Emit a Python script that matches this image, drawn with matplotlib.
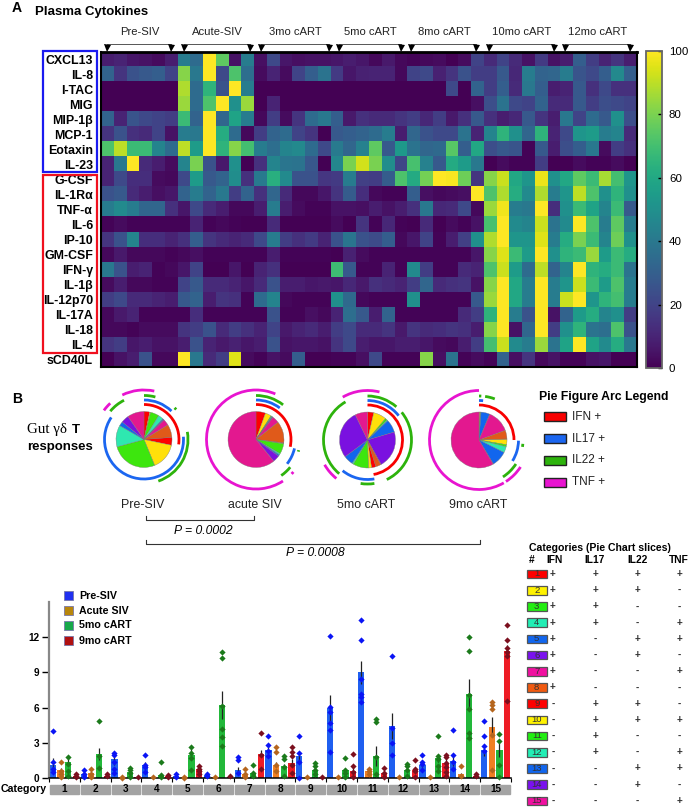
import numpy as np
import matplotlib
matplotlib.use("Agg")
import matplotlib.pyplot as plt
from matplotlib.patches import Arc, Rectangle

plt.rcParams['font.family'] = ['Liberation Sans', 'DejaVu Sans']

W, H = 689, 807

# ---- panel A data
cytokines = ["CXCL13", "IL-8", "I-TAC", "MIG", "MIP-1β", "MCP-1", "Eotaxin", "IL-23",
             "G-CSF", "IL-1Rα", "TNF-α", "IL-6", "IP-10", "GM-CSF", "IFN-γ", "IL-1β",
             "IL-12p70", "IL-17A", "IL-18", "IL-4", "sCD40L"]
timepoints = ["Pre-SIV", "Acute-SIV", "3mo cART", "5mo cART", "8mo cART", "10mo cART", "12mo cART"]
cxcl13 = [8,10,6,5,3,8,42,35,100,75,5,42,4,22,6,4,5,5,6,8,6,2,7,2,1,2,3,0,3,20,12,20,12,5,17,5,8,30,18,10,15,8]
il8 = [32,15,25,28,30,20,82,40,100,22,72,36,3,10,3,20,30,38,17,6,9,10,10,2,20,22,9,15,25,18,18,28,11,42,32,33,42,26,22,30,47,30]
itac = [0,0,0,0,0,0,88,35,65,25,100,42,0,0,0,0,0,0,0,0,0,0,0,0,0,0,0,22,0,32,18,30,12,40,30,8,10,28,14,22,14,14]
mig = [0,0,0,0,0,0,85,35,72,100,50,85,0,10,0,0,0,0,0,0,0,0,0,0,0,0,0,0,0,4,24,38,22,20,32,12,12,28,18,24,22,20]
mip1b = [32,10,26,22,20,18,68,32,100,33,58,42,2,18,3,15,35,40,30,7,14,12,12,15,18,11,18,7,14,28,14,8,11,28,15,8,40,20,35,28,50,24]
mcp1 = [15,25,14,12,20,5,42,40,100,62,35,2,18,32,35,20,15,0,28,30,32,35,42,8,33,25,22,22,38,10,45,65,50,33,65,10,22,52,55,42,45,12]
eotaxin = [72,90,68,68,45,35,90,55,100,65,82,70,42,36,45,47,35,22,41,33,44,75,28,54,38,33,34,74,30,60,24,28,26,1,28,8,24,30,40,3,18,14]
il23 = [10,40,100,12,8,3,45,80,25,7,50,0,14,45,39,38,27,0,46,80,93,80,49,21,71,44,28,61,55,40,0,3,1,1,18,0,0,3,1,1,3,0]
gcsf = [10,22,13,13,3,2,22,55,28,32,49,14,41,63,48,25,25,16,17,42,19,18,29,72,61,79,100,99,78,15,82,92,60,52,97,50,60,75,68,87,70,52]
il1ra = [25,28,12,8,4,6,32,42,32,40,18,32,14,33,12,2,2,6,15,29,13,2,1,1,30,4,2,3,4,100,72,88,62,48,88,42,52,90,72,50,65,50]
tnfa = [42,48,42,33,33,14,6,22,12,8,2,2,8,42,8,3,1,1,5,5,4,8,5,8,14,40,11,12,22,2,85,98,42,40,100,13,50,68,58,45,68,28]
il6 = [1,3,1,1,1,1,1,10,1,2,1,0,0,12,0,0,0,0,3,0,15,1,11,1,0,12,0,3,1,5,71,100,48,45,92,38,48,100,72,42,75,42]
ip10 = [15,25,45,13,13,10,14,30,15,12,10,12,22,42,18,14,17,10,25,39,25,23,30,2,6,20,1,8,19,50,88,100,52,52,95,42,62,80,68,45,78,50]
gmcsf = [2,7,2,2,2,1,2,4,1,1,1,1,1,8,1,1,1,1,0,9,3,1,1,1,1,1,1,1,1,6,82,95,68,55,100,50,65,68,85,55,68,62]
ifng = [40,25,8,10,1,2,6,20,0,0,6,0,10,14,0,0,0,0,69,28,1,1,10,1,48,18,1,1,12,10,72,92,55,35,90,32,45,100,65,62,68,38]
il1b = [3,8,2,2,1,1,20,28,12,12,10,6,12,25,8,8,6,7,6,11,7,14,12,10,18,33,12,14,15,5,82,100,60,42,100,42,52,92,68,55,72,42]
il12p70 = [18,22,12,12,10,8,28,32,8,15,14,1,35,45,2,1,1,1,50,34,2,1,1,1,50,1,1,1,1,28,85,100,60,42,100,42,92,100,52,65,70,42]
il17a = [2,7,10,1,1,1,1,13,1,1,1,1,1,25,1,1,4,2,10,36,28,8,32,1,1,1,1,1,12,18,65,100,42,25,100,5,32,55,62,45,50,18]
il18 = [2,2,1,3,3,3,15,18,25,12,18,14,10,20,7,10,12,8,18,22,12,12,15,7,15,12,13,15,14,8,82,100,5,33,100,18,50,65,38,36,72,25]
il4 = [15,18,6,8,5,5,8,25,10,7,9,6,8,25,5,6,6,5,15,22,8,6,6,8,8,6,3,2,8,18,70,92,48,42,85,38,58,100,58,48,62,40]
scd40l = [0,5,8,25,2,2,100,40,12,18,95,3,1,5,3,30,0,0,1,1,4,22,1,1,1,82,4,38,1,3,1,32,4,15,2,5,1,1,5,6,0,0]
heat_rows = [cxcl13, il8, itac, mig, mip1b, mcp1, eotaxin, il23, gcsf, il1ra, tnfa, il6, ip10,
             gmcsf, ifng, il1b, il12p70, il17a, il18, il4, scd40l]

# ---- panel B pies: slice fractions for categories 1..15
slice_colors = ["#fe0000", "#ffe00a", "#3de60e", "#2ee8b0", "#1166ee", "#7a11e0", "#e3188f", "#e05a1a"] \
    + ["#fe0000", "#ffe00a", "#3de60e", "#2ee8b0", "#1166ee", "#7a11e0", "#e3188f"]
table_colors = ["#fe0000", "#fff200", "#22ee11", "#22eeb5", "#1166ee", "#7a11ee", "#f010a0", "#f05a10"] \
    + ["#fe0000", "#fff200", "#22ee11", "#22eeb5", "#1166ee", "#7a11ee", "#f010a0"]
pie_names = ["Pre-SIV", "acute SIV", "5mo cART", "9mo cART"]
pie_pre = [.033, .005, .05, .03, .006, .004, .035, .075, .045, .155, .27, .125, .025, .045, .097]
pie_acute = [.055, .035, .004, .004, .003, .003, .04, .125, .003, .003, .06, .008, .008, .04, .609]
pie_5mo = [.036, .075, .012, .006, .075, .215, .003, .03, .025, .018, .09, .008, .055, .28, .072]
pie_9mo = [.004, .003, .003, .002, .05, .002, .13, .05, .003, .03, .012, .035, .09, .002, .584]
# arcs in degrees clockwise from 12 o'clock
arcs_pre = {"IFN": [(0, 98)],
            "IL17": [(0, 44), (86, 304)],
            "IL22": [(0, 15), (44, 47), (80, 161), (310, 333)],
            "TNF": [(306, 317), (334, 372)]}
arcs_acute = {"IFN": [(0, 102)],
              "IL17": [(0, 37), (103, 128)],
              "IL22": [(0, 38), (104, 106), (129, 145)],
              "TNF": [(0, 23), (131, 134), (147, 360)]}
arcs_5mo = {"IFN": [(0, 170)],
            "IL17": [(0, 52), (170, 219)],
            "IL22": [(0, 41), (51, 154), (171, 189), (220, 330)],
            "TNF": [(219, 240), (330, 374)]}
arcs_9mo = {"IFN": [(0, 90)],
            "IL17": [(0, 6), (91, 122)],
            "IL22": [(0, 3), (8, 21), (95, 99), (123, 147)],
            "TNF": [(123, 147), (150, 360)]}
arc_colors = {"IFN": "#f80000", "IL17": "#1b66f0", "IL22": "#2db30c", "TNF": "#e814d0"}

# ---- category table
table_cols = ["IFN", "IL17", "IL22", "TNF"]
sign_ifn = list("++++++++-------")
sign_il17 = list("++++----++++---")
sign_il22 = list("++--++--++--++-")
sign_tnf = list("+--++-+--+-++-+")

# ---- bar chart
series_names = ["Pre-SIV", "Acute SIV", "5mo cART", "9mo cART"]
means_pre = [1.1, .35, 1.6, 1.15, .2, .25, .65, 2.4, 1.85, 5.95, 9.0, 4.45, 1.15, 1.45, 2.4]
means_acute = [.65, .4, .05, .05, .05, .05, .35, 1.15, .05, .08, .6, .05, .05, .3, 4.35]
means_5mo = [1.35, 2.05, .55, .25, 2.0, 6.25, .4, 1.0, .7, .7, 1.9, .7, 1.7, 7.2, 2.4]
means_9mo = [.2, .2, .05, .2, .8, .1, 2.05, 1.25, .05, .6, .4, .65, 1.3, .2, 10.8]
errs_pre = [.6, .15, .45, .2, .05, .08, .25, .25, .35, 1.15, 1.0, 1.1, .2, .45, .5]
errs_acute = [.2, .15, .02, .02, .02, .02, .15, .25, .02, .02, .1, .02, .02, .15, .85]
errs_5mo = [.35, .5, .2, .2, .5, 1.2, .15, .2, .3, .15, .85, .2, .35, 1.25, .6]
errs_9mo = [.06, .06, .02, .05, .15, .03, .3, .35, .02, .3, .15, .2, .45, .05, .5]
points_pre = [[4.0, 1.35, .8, .5], [.65, .3, .1], [2.15, 2.0, 1.35, .8, .4], [2.0, 1.1, .9, .5], [.3, .1],
              [.35, .2], [1.8, 1.55, .4], [3.6, 2.8, 2.3, 1.9], [3.6, 2.15, 1.4, 0], [12.1, 6.05, 5.6, 4.7, 4.05, 2.2],
              [13.45, 11.8, 8.45, 7.2, 6.9, 6.45], [10.4, 4.3, 2.95, 2.0], [2.0, 1.4, 1.2, .7], [4.05, 2.0, 1.4, .8],
              [4.85, 3.55, 2.7, 2.3]]
points_acute = [[1.35, .6, .3, .1], [.8, .35, .1], [.1, 0], [.05], [.1, 0], [.1], [.75, .3, .1], [2.6, 2.2, 1.1, .6],
                [.1], [.1], [.8, .6, .3], [.1], [.1], [1.05, .2], [6.5, 6.2, 5.9, 3.7, .7]]
points_5mo = [[1.8, 1.2, .6, .2], [4.85, 1.9, .85], [.85, .7, .4, .1], [1.35, .25, .1], [2.65, 2.1, 1.7, .7],
              [10.7, 10.25, 6.1, 4.2, 3.5, 2.75], [1.1, .4, .2], [1.85, 1.6, .9, .2], [1.25, 1.0, .7, .3],
              [1.7, .65, .4, .1], [5.0, 4.8, 1.75, .3], [1.2, 1.0, .7, .2], [3.6, 1.9, 1.6, 1.0, .6],
              [12.0, 10.8, 7.1, 5.9, 3.8, 3.4], [3.75, 3.15, 1.1, .1]]
points_9mo = [[.3, .15, .1], [.3, .15], [.1], [.25, .1], [1.0, .8, .6, .3], [.2], [3.8, 1.95, .75],
              [2.6, 2.25, 1.9, 1.1, .4], [.1], [2.05, 1.05, .5, .1], [.85, .4, .1], [1.5, .75, .6, .1],
              [2.0, 1.75, 1.3, .9, .5, .2], [.35, .15], [13.05, 11.75, 11.1, 10.7, 10.4, 6.55]]


def px_axes(x0, y0, x1, y1, **kw):
    # axes placed in pixel coordinates of the reference, y downwards
    return fig.add_axes([x0 / W, 1 - y1 / H, (x1 - x0) / W, (y1 - y0) / H], **kw)


def pt(px):
    return px * 0.72


fig = plt.figure(figsize=(W / 100, H / 100), dpi=100)

# heatmap
ax = px_axes(101, 52, 637, 367)
im = ax.imshow(np.array(heat_rows), cmap="viridis", vmin=0, vmax=100, aspect="auto", interpolation="nearest")
ax.set_xticks([])
ax.set_yticks(range(len(cytokines)))
ax.set_yticklabels(cytokines, fontweight="bold", fontsize=pt(12.4))
ax.tick_params(axis="y", length=0, pad=pt(8))
for s in ax.spines.values():
    s.set_linewidth(1.5)
ax.spines["top"].set_linewidth(2)

cax = px_axes(646, 51, 662, 368)
cb = fig.colorbar(im, cax=cax, ticks=[0, 20, 40, 60, 80, 100])
cb.outline.set_edgecolor("#666666")
cb.outline.set_linewidth(1.3)
cax.tick_params(direction="in", length=3, width=1, labelsize=pt(11.5), pad=5)

# pies with their marker arcs
pie_r = 28
ring_r = {"IFN": 35, "IL17": 39.5, "IL22": 44, "TNF": 49.5}
pie_centres = [(144, 439.5), (256, 439.5), (367.5, 440), (479, 440)]
half = 58
for (cx, cy), fracs, arcs in zip(pie_centres, [pie_pre, pie_acute, pie_5mo, pie_9mo],
                                 [arcs_pre, arcs_acute, arcs_5mo, arcs_9mo]):
    pa = px_axes(cx - half, cy - half, cx + half, cy + half)
    pa.pie(fracs, colors=slice_colors, startangle=90, counterclock=False, radius=pie_r,
           wedgeprops=dict(edgecolor="#777777", linewidth=0.25))
    for name, spans in arcs.items():
        d = 2 * ring_r[name]
        for a0, a1 in spans:
            pa.add_patch(Arc((0, 0), d, d, theta1=90 - a1, theta2=90 - a0,
                             color=arc_colors[name], lw=2.0, capstyle="butt"))
    pa.set_xlim(-half, half)
    pa.set_ylim(-half, half)
    pa.axis("off")

# bar chart
bx = px_axes(49, 602, 511, 778)
n_cat = len(means_pre)
cats = np.arange(n_cat)
bar_cols = ["#1f5ff0", "#f07f22", "#22b83a", "#ee1c25"]
dot_cols = ["#0a14f5", "#b5651d", "#1b7a1b", "#7b0f1e"]
offs = [-0.375, -0.125, 0.125, 0.375]
all_means = [means_pre, means_acute, means_5mo, means_9mo]
all_errs = [errs_pre, errs_acute, errs_5mo, errs_9mo]
all_pts = [points_pre, points_acute, points_5mo, points_9mo]
for k in range(4):
    xs = cats + offs[k]
    bx.bar(xs, all_means[k], width=0.2, color=bar_cols[k], zorder=2)
    bx.errorbar(xs, all_means[k], yerr=all_errs[k], fmt="none", ecolor="#222222", elinewidth=0.9, zorder=3)
    for x, vals in zip(xs, all_pts[k]):
        bx.plot([x] * len(vals), vals, ls="none", marker="D", ms=pt(4.4), mfc=dot_cols[k], mec=dot_cols[k],
                mew=0, zorder=4, clip_on=False)
bx.set_xlim(-0.5, n_cat - 0.5)
bx.set_ylim(0, 15)
bx.set_yticks([0, 3, 6, 9, 12])
bx.tick_params(axis="y", labelsize=pt(10), length=5, width=1, pad=2)
for lab in bx.get_yticklabels():
    lab.set_fontweight("bold")
bx.set_xticks(np.arange(n_cat + 1) - 0.5)
bx.set_xticklabels([])
bx.tick_params(axis="x", length=3, width=0.8)
bx.spines["top"].set_visible(False)
bx.spines["right"].set_visible(False)
bx.spines["left"].set_color("#888888")
bx.spines["left"].set_linewidth(1.6)
bx.spines["bottom"].set_linewidth(1.1)
for c in cats:
    bx.add_patch(Rectangle((c - 0.47, -1.34), 0.94, 0.74, color="#a3a3a3", clip_on=False))
    bx.text(c, -0.98, str(c + 1), ha="center", va="center", fontsize=pt(10), fontweight="bold", clip_on=False)

# everything else sits on a pixel overlay
ov = fig.add_axes([0, 0, 1, 1], facecolor="none")
ov.set_xlim(0, W)
ov.set_ylim(H, 0)
ov.axis("off")


def label(x, y, s, size=14, weight="normal", ha="left", **kw):
    ov.text(x, y, s, fontsize=pt(size), fontweight=weight, ha=ha, va="center", **kw)


label(12, 8, "A", 14, "bold")
label(35, 12.5, "Plasma Cytokines", 13.3, "bold")
label(12, 399, "B", 14, "bold")

ov.add_patch(Rectangle((42.5, 51), 54, 121, fill=False, ec="#1a1af0", lw=1.6))
ov.add_patch(Rectangle((42.5, 174.5), 54, 178, fill=False, ec="#f0101e", lw=1.6))

starts = [107, 184, 261, 339, 411, 489, 565]
ends = [171, 250, 329, 401, 476, 554, 630]
for s, e, name in zip(starts, ends, timepoints):
    ov.plot([s, s, e, e], [48, 43.5, 43.5, 48], color="#555555", lw=0.7)
    ov.plot([s, e], [48, 48], ls="none", marker="v", ms=pt(7), color="black", mew=0)
    label((s + e) / 2 + 0.5, 32, name, 11.2, ha="center", color="#222222")

label(27, 430, "Gut γδ", 15, family=["Liberation Serif", "DejaVu Serif"])
label(72, 430, "T", 13.2, "bold")
label(27, 447, "responses", 13.2, "bold")
for (cx, _), name in zip(pie_centres, pie_names):
    label(cx - 1, 505, name, 12.4, ha="center", color="#222222")

ov.plot([146, 146, 254, 254], [516, 520, 520, 516], color="#333333", lw=0.8)
label(203, 531, "P = 0.0002", 12.1, ha="center", style="italic")
ov.plot([146, 146, 480, 480], [540, 543.5, 543.5, 540], color="#333333", lw=0.8)
label(315, 552.5, "P = 0.0008", 12.1, ha="center", style="italic")

# arc legend
label(539, 397, "Pie Figure Arc Legend", 12.3, "bold")
for y, key in zip([416.5, 438.5, 460, 482], ["IFN", "IL17", "IL22", "TNF"]):
    ov.add_patch(Rectangle((543.5, y - 4.5), 22, 9, fc=arc_colors[key], ec="#222222", lw=1))
    label(572, y, key + " +", 11.8, color="#222222")

# bar legend
for y, name, col in zip([595.7, 610.7, 625.5, 640.5], series_names, ["#2030f0", "#b8860b", "#17a84a", "#b01010"]):
    ov.add_patch(Rectangle((64, y - 4.5), 9, 9, fc=col, ec="#7777aa", lw=0.6))
    label(79, y, name, 10.6, "bold")
label(1, 789, "Category", 10.6, "bold")

# category table
label(529, 548, "Categories (Pie Chart slices)", 10.5, "bold")
label(532, 560, "#", 10.3, "bold", ha="center")
col_x = [553, 595.5, 637.5, 679.5]
for x, name in zip([555, 595, 637, 679], table_cols):
    label(x, 560, name, 10.3, "bold", ha="center")
signs = [sign_ifn, sign_il17, sign_il22, sign_tnf]
for i in range(15):
    y = 574 + 16.2 * i
    ov.add_patch(Rectangle((526.5, y - 4.3), 20.5, 8.6, fc=table_colors[i], ec="#555555", lw=0.9))
    label(536.7, y, str(i + 1), 9.5, ha="center", color="#333333")
    for x, col in zip(col_x, signs):
        label(x, y, col[i], 10, "bold", ha="center", color="#333333")

fig.savefig("out.png", dpi=100)
